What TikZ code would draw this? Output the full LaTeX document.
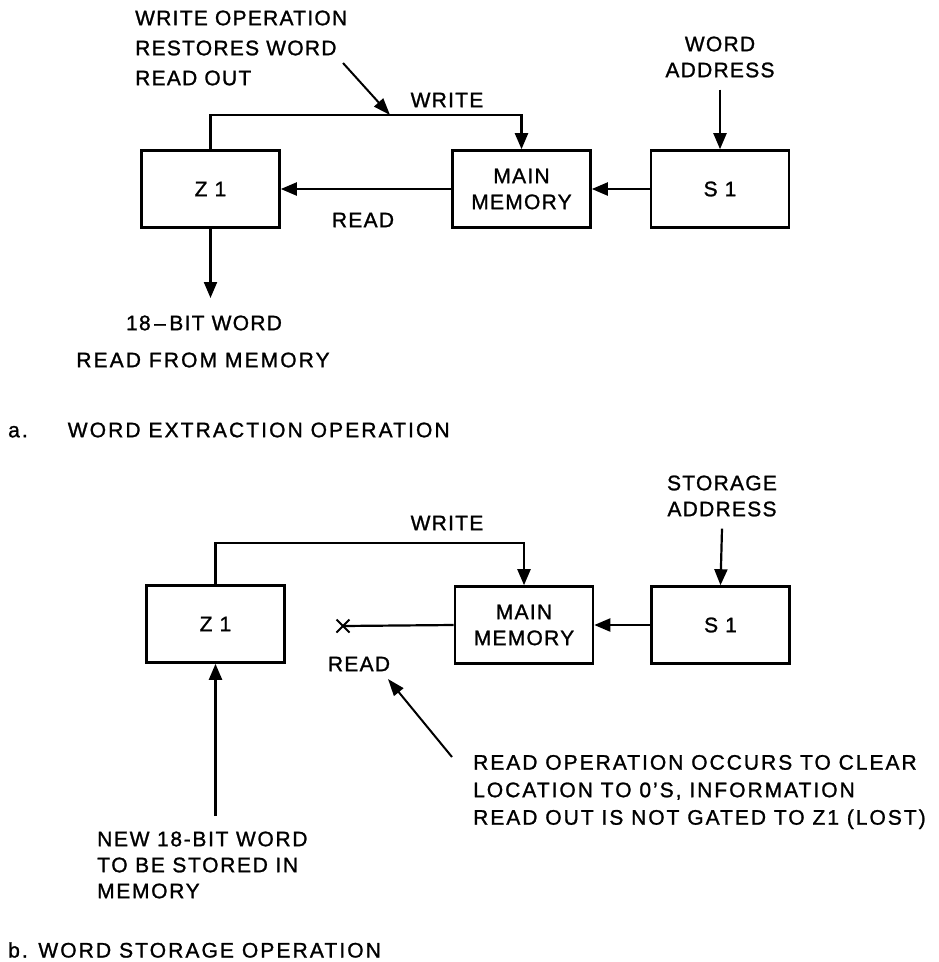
\documentclass[tikz,border=0pt]{standalone}
\usepackage{fontspec}
\setmainfont{Liberation Sans}[LetterSpace=6, FakeBold=1.2]
\usepackage{tikz}
\usetikzlibrary{positioning,arrows.meta,shapes.misc}

\begin{document}
\begin{tikzpicture}[
    x=1pt, y=-1pt,
    font=\fontsize{21}{26}\selectfont,
    unit/.style={rectangle, draw, line width=2.6pt, minimum width=138pt, minimum height=77pt, align=center, inner sep=0pt},
    lbl/.style={align=center, inner sep=0pt},
    note/.style={align=left, inner sep=0pt},
    wide/.style={font=\fontsize{21}{27.5}\selectfont\addfontfeatures{LetterSpace=9.5}},
    arr/.style={-{Triangle[length=16pt, width=13pt]}, line width=2.2pt},
    wire/.style={line width=2.2pt},
    pointer/.style={-{Triangle[length=17pt, width=12pt]}, line width=2pt},
    lostmark/.style={cross out, draw, line width=2pt, minimum size=11pt, inner sep=0pt}
]
\useasboundingbox (0,0) rectangle (939,962);

% ============================================================
% a. WORD EXTRACTION
% ============================================================
\node[unit] (z1a)  at (210.5,189) {Z 1};
\node[unit] (mema) at (521.5,189) {MAIN\\MEMORY};
\node[unit] (s1a)  at (720,189)   {S 1};

\node[lbl] (wadr)  at (720,57)  {WORD\\ADDRESS};
\node[lbl] (wra)   at (447,100) {WRITE};
\node[lbl] (rda)   at (363,220) {READ};
\node[note, anchor=west, font=\fontsize{21}{30}\selectfont] (restore) at (135,48)
    {WRITE OPERATION\\RESTORES WORD\\READ OUT};
\node[lbl] (bitw)  at (204,323) {18\,--\,BIT WORD};
\node[lbl, font=\fontsize{21}{26}\selectfont\addfontfeatures{LetterSpace=10}] (rfm) at (203,360) {READ FROM MEMORY};
\node[note, anchor=west, font=\fontsize{21}{26}\selectfont\addfontfeatures{LetterSpace=10}] (capa) at (8,430)
    {a.\hspace{40pt}WORD EXTRACTION OPERATION};

\coordinate (resT) at (343,63);
\coordinate (resH) at (390,115);
\coordinate (outa) at (210.5,298);

\draw[arr] (z1a.north) -- ++(0,-34) -| (mema.north);
\draw[arr] (mema) -- (z1a);
\draw[arr] (s1a) -- (mema);
\draw[arr] ([yshift=-12pt]wadr.south) -- (s1a.north);
\draw[arr] (z1a.south) -- (outa);
\draw[pointer] (resT) -- (resH);

% ============================================================
% b. WORD STORAGE
% ============================================================
\node[unit] (z1b)  at (215.5,624) {Z 1};
\node[unit] (memb) at (524,625)   {MAIN\\MEMORY};
\node[unit] (s1b)  at (720.5,625) {S 1};

\node[lbl] (sadr)  at (722,496) {STORAGE\\ADDRESS};
\node[lbl] (wrb)   at (447,523) {WRITE};
\node[lostmark] (lost) at (343,626) {};
\node[lbl] (rdb)   at (359,664) {READ};
\node[note, wide, anchor=west] (clear) at (473,792)
    {READ OPERATION OCCURS TO CLEAR\\LOCATION TO 0'S, INFORMATION\\READ OUT IS NOT GATED TO Z1 (LOST)};
\node[note, anchor=west, font=\fontsize{21}{26}\selectfont\addfontfeatures{LetterSpace=8}] (neww) at (97,865)
    {NEW 18-BIT WORD\\TO BE STORED IN\\MEMORY};
\node[note, anchor=west, font=\fontsize{21}{26}\selectfont\addfontfeatures{LetterSpace=10}] (capb) at (8,950)
    {b. WORD STORAGE OPERATION};

\coordinate (clrT) at (452,757);
\coordinate (clrH) at (388,679);
\coordinate (inb)  at (215.5,816);

\draw[arr] (z1b.north) -- ++(0,-41) -| (memb.north);
\draw[wire] (memb.west) -- (lost.center);
\draw[arr] (s1b) -- (memb);
\draw[arr] ([yshift=-12pt]sadr.south) -- (s1b.north);
\draw[arr] (inb) -- (z1b.south);
\draw[pointer] (clrT) -- (clrH);

\end{tikzpicture}
\end{document}
